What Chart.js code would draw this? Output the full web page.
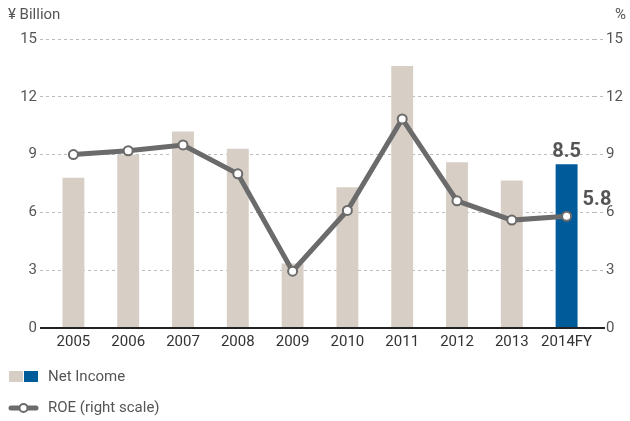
<!DOCTYPE html>
<html>
<head>
<meta charset="utf-8">
<script src="https://cdn.jsdelivr.net/npm/chart.js@4/dist/chart.umd.min.js"></script>
<style>
  html, body { margin: 0; padding: 0; background: #fff; }
  #wrap { width: 630px; height: 421px; position: relative; }
</style>
</head>
<body>
<div id="wrap"><canvas id="chart" width="630" height="421"></canvas></div>
<script>
const years = ['2005', '2006', '2007', '2008', '2009', '2010', '2011', '2012', '2013', '2014FY'];
const netIncome = [7.8, 9.0, 10.2, 9.3, 3.35, 7.3, 13.6, 8.6, 7.65, 8.5];
const roe = [9.0, 9.2, 9.5, 8.0, 2.95, 6.1, 10.85, 6.6, 5.6, 5.8];
const tickValues = [0, 3, 6, 9, 12, 15];

const FONT = 'Roboto, "DejaVu Sans", sans-serif';
const beige = '#d7cfc5';
const blue = '#005b9a';
const lineGrey = '#6b6b6b';

const barColors = years.map((y, i) => i === years.length - 1 ? blue : beige);

// axis line at zero, unit titles, value callouts, legend
const decorations = {
  id: 'decorations',
  afterDatasetsDraw(chart) {
    const { ctx, chartArea, scales } = chart;
    const y0 = scales.y.getPixelForValue(0);
    ctx.save();
    ctx.strokeStyle = '#222';
    ctx.lineWidth = 2;
    ctx.beginPath();
    ctx.moveTo(chartArea.left - 6, y0);
    ctx.lineTo(chartArea.right + 11, y0);
    ctx.stroke();

    ctx.fillStyle = '#555';
    ctx.font = '15px ' + FONT;
    ctx.textBaseline = 'middle';
    ctx.textAlign = 'left';
    ctx.fillText('¥ Billion', 8, 15);
    ctx.textAlign = 'right';
    ctx.fillText('%', 626, 15);

    const last = years.length - 1;
    const barMeta = chart.getDatasetMeta(0).data[last];
    const ptMeta = chart.getDatasetMeta(1).data[last];
    ctx.font = 'bold 20px ' + FONT;
    ctx.fillStyle = '#555';
    ctx.textAlign = 'center';
    ctx.textBaseline = 'bottom';
    ctx.fillText(netIncome[last].toFixed(1), barMeta.x, barMeta.y - 2);
    ctx.textAlign = 'left';
    ctx.textBaseline = 'middle';
    ctx.fillText(roe[last].toFixed(1), ptMeta.x + 16, ptMeta.y - 16);

    // legend
    ctx.fillStyle = beige;
    ctx.fillRect(9, 371, 14, 11);
    ctx.fillStyle = blue;
    ctx.fillRect(24, 371, 14, 11);
    ctx.font = '15px ' + FONT;
    ctx.fillStyle = '#555';
    ctx.fillText('Net Income', 48, 377);

    ctx.strokeStyle = lineGrey;
    ctx.lineWidth = 5;
    ctx.lineCap = 'round';
    ctx.beginPath();
    ctx.moveTo(11, 408);
    ctx.lineTo(36, 408);
    ctx.stroke();
    ctx.beginPath();
    ctx.arc(23.5, 408, 4, 0, Math.PI * 2);
    ctx.fillStyle = '#fff';
    ctx.fill();
    ctx.lineWidth = 2;
    ctx.stroke();
    ctx.fillStyle = '#555';
    ctx.fillText('ROE (right scale)', 48, 408);
    ctx.restore();
  }
};

new Chart(document.getElementById('chart'), {
  data: {
    labels: years,
    datasets: [
      {
        type: 'bar',
        label: 'Net Income',
        data: netIncome,
        backgroundColor: barColors,
        barPercentage: 0.8,
        categoryPercentage: 0.5,
        yAxisID: 'y',
        order: 2
      },
      {
        type: 'line',
        label: 'ROE (right scale)',
        data: roe,
        borderColor: lineGrey,
        borderWidth: 5,
        pointRadius: 4.5,
        pointBorderWidth: 2,
        pointBackgroundColor: '#fff',
        pointBorderColor: lineGrey,
        tension: 0,
        yAxisID: 'y1',
        order: 1
      }
    ]
  },
  options: {
    responsive: false,
    animation: false,
    layout: { padding: { top: 39, left: 0, right: 0, bottom: 0 } },
    plugins: { legend: { display: false }, tooltip: { enabled: false } },
    scales: {
      x: {
        grid: { display: false },
        border: { display: false },
        ticks: { color: '#333', font: { family: FONT, size: 15 }, padding: -3, maxRotation: 0, autoSkip: false },
        afterFit(scale) { scale.height = 93; }
      },
      y: {
        position: 'left',
        min: 0, max: 15,
        afterBuildTicks(scale) { scale.ticks = tickValues.map(v => ({ value: v })); },
        grid: {
          color: '#bdbdbd',
          lineWidth: 1,
          tickLength: 6,
          tickBorderDash: [3, 3],
          tickColor: '#bdbdbd'
        },
        border: { display: false, dash: [3, 3] },
        ticks: { color: '#555', font: { family: FONT, size: 15 }, padding: 3 },
        afterFit(scale) { scale.width = 46; }
      },
      y1: {
        position: 'right',
        min: 0, max: 15,
        afterBuildTicks(scale) { scale.ticks = tickValues.map(v => ({ value: v })); },
        grid: {
          drawOnChartArea: false,
          color: '#bdbdbd',
          tickLength: 9,
          tickBorderDash: [3, 3]
        },
        border: { display: false },
        ticks: { color: '#555', font: { family: FONT, size: 15 }, padding: 3 },
        afterFit(scale) { scale.width = 36; }
      }
    }
  },
  plugins: [decorations]
});
</script>
</body>
</html>
